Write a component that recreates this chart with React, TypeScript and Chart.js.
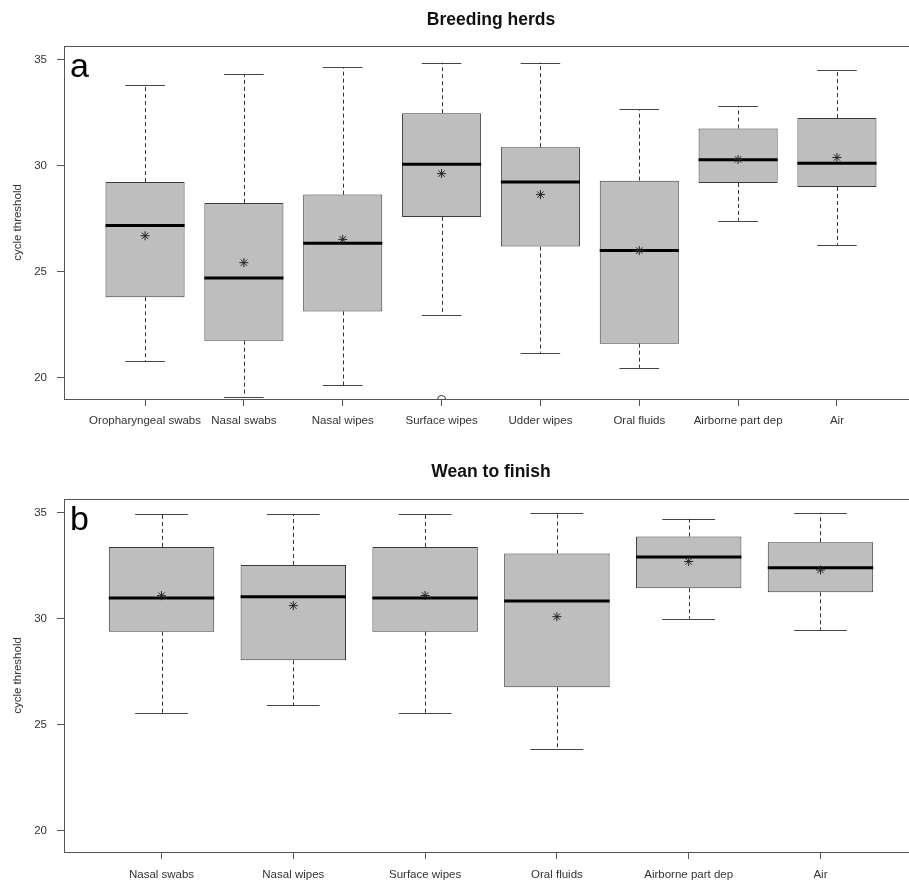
import React, { useEffect, useRef } from "react";
import { Chart, registerables } from "chart.js";

Chart.register(...registerables);

// ---------- Panel a: Breeding herds ----------
const aCategories = [
  "Oropharyngeal swabs",
  "Nasal swabs",
  "Nasal wipes",
  "Surface wipes",
  "Udder wipes",
  "Oral fluids",
  "Airborne part dep",
  "Air",
];
const aLower = [20.79, 19.1, 19.64, 22.96, 21.18, 20.47, 27.41, 26.27];
const aQ1 = [23.8, 21.75, 23.13, 27.59, 26.19, 21.61, 29.19, 29.0];
const aMedian = [27.18, 24.71, 26.35, 30.07, 29.23, 26.0, 30.29, 30.12];
const aQ3 = [29.23, 28.25, 28.64, 32.48, 30.88, 29.3, 31.76, 32.25];
const aUpper = [33.83, 34.32, 34.64, 34.87, 34.87, 32.67, 32.8, 34.53];
const aMean = [26.7, 25.43, 26.53, 29.63, 28.64, 26.0, 30.3, 30.39];
const aOutlierCat = [4];
const aOutlierVal = [18.98];

// ---------- Panel b: Wean to finish ----------
const bCategories = [
  "Nasal swabs",
  "Nasal wipes",
  "Surface wipes",
  "Oral fluids",
  "Airborne part dep",
  "Air",
];
const bLower = [25.54, 25.92, 25.54, 23.84, 30.0, 29.48];
const bQ1 = [29.39, 28.04, 29.39, 26.77, 31.44, 31.25];
const bMedian = [30.98, 31.04, 30.98, 30.84, 32.92, 32.41];
const bQ3 = [33.39, 32.54, 33.39, 33.08, 33.88, 33.61];
const bUpper = [34.92, 34.95, 34.92, 34.97, 34.72, 35.0];
const bMean = [31.09, 30.62, 31.1, 30.1, 32.7, 32.3];
const bOutlierCat: number[] = [];
const bOutlierVal: number[] = [];

const yTicks = [20, 25, 30, 35];
const yMin = 19;
const yMax = 35.65;
const yTitle = "cycle threshold";

const FONT = "'Liberation Sans', Arial, sans-serif";

const boxExtras = {
  id: "boxExtras",
  afterDatasetDraw(chart: any, args: any, opts: any) {
    if (args.index !== 0) return;
    const { ctx } = chart;
    const y = chart.scales.y;
    const meta = chart.getDatasetMeta(0);
    const s = opts.stats;
    meta.data.forEach((bar: any, i: number) => {
      const { x, width } = bar.getProps(["x", "width"], true);
      const xc = Math.round(x) + 0.5;
      ctx.save();
      ctx.strokeStyle = "#333";
      ctx.lineWidth = 1;
      ctx.setLineDash([4, 3]);
      ctx.beginPath();
      ctx.moveTo(xc, y.getPixelForValue(s.q3[i]));
      ctx.lineTo(xc, y.getPixelForValue(s.upper[i]));
      ctx.moveTo(xc, y.getPixelForValue(s.q1[i]));
      ctx.lineTo(xc, y.getPixelForValue(s.lower[i]));
      ctx.stroke();
      ctx.setLineDash([]);
      const cw = width * 0.25;
      ctx.strokeStyle = "#444";
      ctx.beginPath();
      const yu = Math.round(y.getPixelForValue(s.upper[i])) + 0.5;
      const yl = Math.round(y.getPixelForValue(s.lower[i])) + 0.5;
      ctx.moveTo(x - cw, yu);
      ctx.lineTo(x + cw, yu);
      ctx.moveTo(x - cw, yl);
      ctx.lineTo(x + cw, yl);
      ctx.stroke();
      ctx.strokeStyle = "#000";
      ctx.lineWidth = 3;
      const ym = y.getPixelForValue(s.median[i]);
      ctx.beginPath();
      ctx.moveTo(x - width / 2, ym);
      ctx.lineTo(x + width / 2, ym);
      ctx.stroke();
      ctx.restore();
    });
  },
  afterDraw(chart: any, args: any, opts: any) {
    const { ctx, chartArea } = chart;
    ctx.save();
    ctx.strokeStyle = "#555";
    ctx.lineWidth = 1;
    ctx.strokeRect(
      Math.round(chartArea.left) + 0.5,
      Math.round(chartArea.top) + 0.5,
      Math.round(chartArea.right - chartArea.left),
      Math.round(chartArea.bottom - chartArea.top)
    );
    ctx.fillStyle = "#000";
    ctx.font = `34px ${FONT}`;
    ctx.textAlign = "left";
    ctx.textBaseline = "alphabetic";
    ctx.fillText(opts.letter, chartArea.left + 6, chartArea.top + 31);
    ctx.restore();
  },
};

type PanelProps = {
  title: string;
  letter: string;
  categories: string[];
  lower: number[];
  q1: number[];
  median: number[];
  q3: number[];
  upper: number[];
  mean: number[];
  outCat: number[];
  outVal: number[];
  top: number;
  height: number;
  chartTop: number;
  xAxisHeight: number;
  labelPad: number;
};

function BoxPanel(p: PanelProps) {
  const ref = useRef<HTMLCanvasElement | null>(null);
  useEffect(() => {
    if (!ref.current) return;
    const n = p.categories.length;
    const ext = n * 0.04;
    const chart = new Chart(ref.current, {
      type: "bar",
      data: {
        datasets: [
          {
            type: "bar",
            order: 3,
            data: p.categories.map((_, i) => ({ x: i + 1, y: [p.q1[i], p.q3[i]] })) as any,
            backgroundColor: "#bebebe",
            borderColor: "#3a3a3a",
            borderWidth: 1,
            borderSkipped: false,
            categoryPercentage: 1,
            barPercentage: 0.8,
          } as any,
          {
            type: "scatter",
            order: 1,
            data: p.categories.map((_, i) => ({ x: i + 1, y: p.mean[i] })),
            pointStyle: "star",
            pointRadius: 4.5,
            borderColor: "#222",
            backgroundColor: "#222",
            borderWidth: 1,
          } as any,
          {
            type: "scatter",
            order: 2,
            data: p.outCat.map((c, i) => ({ x: c, y: p.outVal[i] })),
            pointStyle: "circle",
            pointRadius: 4,
            borderColor: "#333",
            backgroundColor: "rgba(0,0,0,0)",
            borderWidth: 1,
            clip: 0,
          } as any,
        ],
      },
      options: {
        animation: false,
        responsive: false,
        events: [],
        layout: { padding: { left: 0, right: 12, top: 0, bottom: 0 } },
        plugins: {
          legend: { display: false },
          tooltip: { enabled: false },
          title: {
            display: true,
            text: p.title,
            fullSize: false,
            color: "#111",
            font: { family: FONT, size: 17.5, weight: "bold" },
            padding: { top: 10, bottom: p.chartTop - 10 - 21 },
          },
          boxExtras: {
            letter: p.letter,
            stats: { lower: p.lower, q1: p.q1, median: p.median, q3: p.q3, upper: p.upper },
          },
        } as any,
        scales: {
          x: {
            type: "linear",
            min: 0.5 - ext,
            max: n + 0.5 + ext,
            offset: false,
            grid: {
              offset: false,
              drawOnChartArea: false,
              drawTicks: true,
              tickLength: 7,
              color: "#555",
            },
            border: { display: false },
            afterBuildTicks: (scale: any) => {
              scale.ticks = p.categories.map((_, i) => ({ value: i + 1 }));
            },
            afterFit: (scale: any) => {
              scale.height = p.xAxisHeight;
            },
            ticks: {
              autoSkip: false,
              maxRotation: 0,
              padding: p.labelPad,
              color: "#333",
              font: { family: FONT, size: 11.5 },
              callback: (v: any) => p.categories[Math.round(Number(v)) - 1] ?? "",
            },
          },
          y: {
            type: "linear",
            min: yMin,
            max: yMax,
            grid: { drawOnChartArea: false, drawTicks: true, tickLength: 7, color: "#555" },
            border: { display: false },
            afterBuildTicks: (scale: any) => {
              scale.ticks = yTicks.map((v) => ({ value: v }));
            },
            afterFit: (scale: any) => {
              scale.width = 64;
            },
            ticks: {
              padding: 10,
              color: "#333",
              font: { family: FONT, size: 11.5 },
            },
            title: {
              display: true,
              text: yTitle,
              color: "#333",
              font: { family: FONT, size: 11.5 },
              padding: { top: 11, bottom: 0 },
            },
          },
        },
      } as any,
      plugins: [boxExtras as any],
    });
    return () => chart.destroy();
  }, []);
  return (
    <canvas
      ref={ref}
      width={930}
      height={p.height}
      style={{ position: "absolute", left: 0, top: p.top, display: "block" }}
    />
  );
}

export default function App() {
  return (
    <div
      style={{
        position: "fixed",
        left: 0,
        top: 0,
        width: 909,
        height: 880,
        overflow: "hidden",
        background: "#fff",
      }}
    >
      <BoxPanel
        title="Breeding herds"
        letter="a"
        categories={aCategories}
        lower={aLower}
        q1={aQ1}
        median={aMedian}
        q3={aQ3}
        upper={aUpper}
        mean={aMean}
        outCat={aOutlierCat}
        outVal={aOutlierVal}
        top={0}
        height={445}
        chartTop={46}
        xAxisHeight={46}
        labelPad={8}
      />
      <BoxPanel
        title="Wean to finish"
        letter="b"
        categories={bCategories}
        lower={bLower}
        q1={bQ1}
        median={bMedian}
        q3={bQ3}
        upper={bUpper}
        mean={bMean}
        outCat={bOutlierCat}
        outVal={bOutlierVal}
        top={452}
        height={428}
        chartTop={47}
        xAxisHeight={28}
        labelPad={9}
      />
    </div>
  );
}
